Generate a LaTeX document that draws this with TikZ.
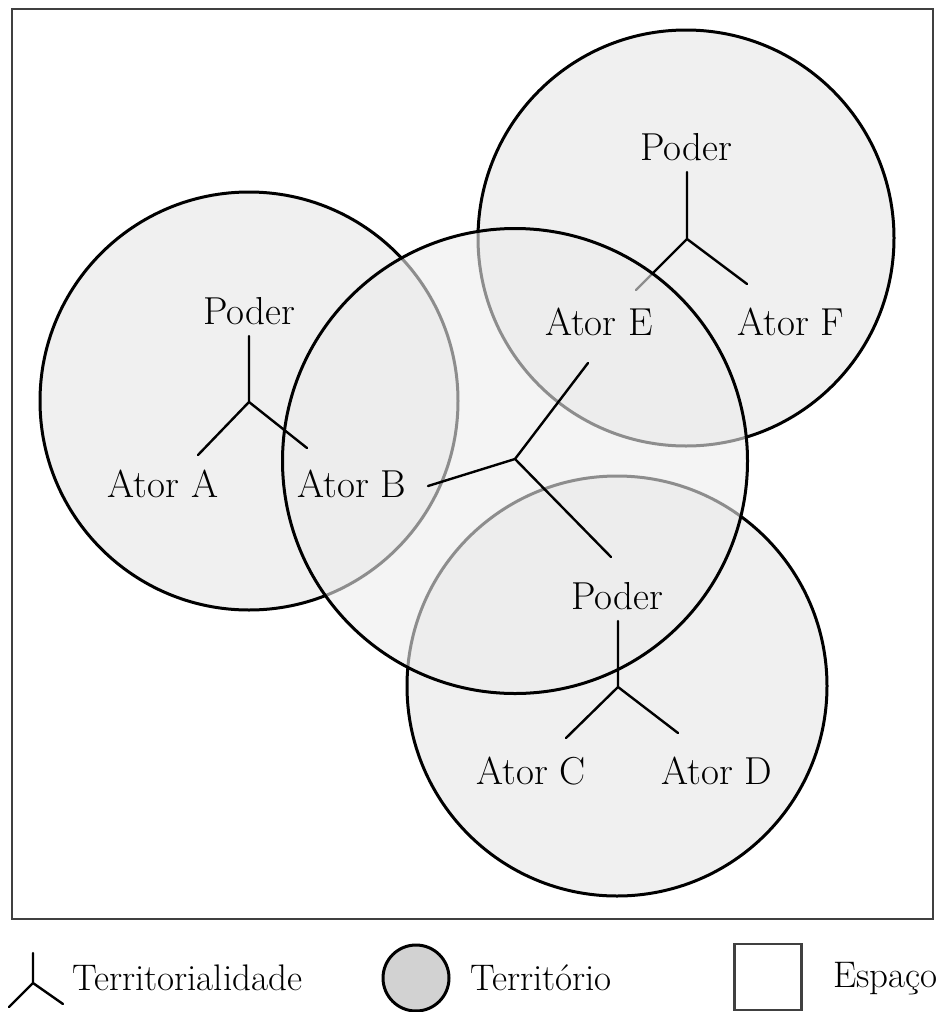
\documentclass[tikz,border=0pt]{standalone}
\usepackage{fontspec}
\usepackage{tikz}
\usetikzlibrary{positioning,calc}
\tikzset{%
	territorio/.style = {draw, circle, line width=3pt, fill=gray!12, inner sep=0pt}, % Territorio
	central/.style    = {draw, circle, line width=3pt, fill=gray!15, fill opacity=0.6, inner sep=0pt},
	ramo/.style       = {line width=2.4pt, line cap=round},
	rotulo/.style     = {font=\fontsize{39}{44}\selectfont, inner sep=0pt}, % Ator / Poder
	legenda/.style    = {font=\fontsize{37}{42}\selectfont, inner sep=0pt, anchor=base west},
	espaco/.style     = {draw=black!75, line width=2.2pt}, % Espaco
}

\begin{document}
\begin{tikzpicture}[x=1pt,y=-1pt]
		\useasboundingbox (0,0) rectangle (938,1012);
		\draw[espaco] (12,9) rectangle (933,919);
		% territorios
		\node [territorio, minimum size=418] (TA) at (249,401) {};
		\node [territorio, minimum size=416] (TE) at (686,238) {};
		\node [territorio, minimum size=420] (TC) at (617,686) {};
		% territorialidade E-F
		\coordinate (cE) at (687,239);
		\coordinate (pE) at (687,172);
		\coordinate (eE) at (636,290);
		\coordinate (fE) at (747,284);
		\draw[ramo] (cE) -- (pE) (cE) -- (eE) (cE) -- (fE);
		% territorio central
		\node [central, minimum size=465] (TB) at (515,461) {};
		% territorialidade A
		\coordinate (cA) at (249,402);
		\coordinate (pA) at (249,336);
		\coordinate (aA) at (198,455);
		\coordinate (bA) at (307,448);
		\draw[ramo] (cA) -- (pA) (cA) -- (aA) (cA) -- (bA);
		% territorialidade B
		\coordinate (cB) at (515,459);
		\coordinate (bB) at (428,486);
		\coordinate (eB) at (588,363);
		\coordinate (pB) at (611,557);
		\draw[ramo] (cB) -- (bB) (cB) -- (eB) (cB) -- (pB);
		% territorialidade C-D
		\coordinate (cC) at (618,687);
		\coordinate (pC) at (618,621);
		\coordinate (aC) at (566,738);
		\coordinate (dC) at (678,733);
		\draw[ramo] (cC) -- (pC) (cC) -- (aC) (cC) -- (dC);
		% rotulos
		\node [rotulo] (poderA) at (249,311) {Poder};
		\node [rotulo] (atorA) at (163,484) {Ator A};
		\node [rotulo] (atorB) at (352,484) {Ator B};
		\node [rotulo] (poderE) at (686,147) {Poder};
		\node [rotulo] (atorE) at (599,322) {Ator E};
		\node [rotulo] (atorF) at (791,322) {Ator F};
		\node [rotulo] (poderC) at (617,596) {Poder};
		\node [rotulo] (atorC) at (531,771) {Ator C};
		\node [rotulo] (atorD) at (717,771) {Ator D};
		% legenda
		\coordinate (cL) at (33,983);
		\coordinate (pL) at (33,953);
		\coordinate (aL) at (9,1007);
		\coordinate (bL) at (63,1004);
		\draw[ramo] (cL) -- (pL) (cL) -- (aL) (cL) -- (bL);
		\node [legenda] (legY) at (72,990) {Territorialidade};
		\node [territorio, fill=gray!35, minimum size=66] (legC) at (416,978) {};
		\node [legenda] (legT) at (470,990) {Território};
		\node [espaco, rectangle, line width=2.6pt, minimum width=67, minimum height=66] (legS) at (768,977) {};
		\node [legenda] (legE) at (833,987) {Espaço};
	\end{tikzpicture}
\end{document}
